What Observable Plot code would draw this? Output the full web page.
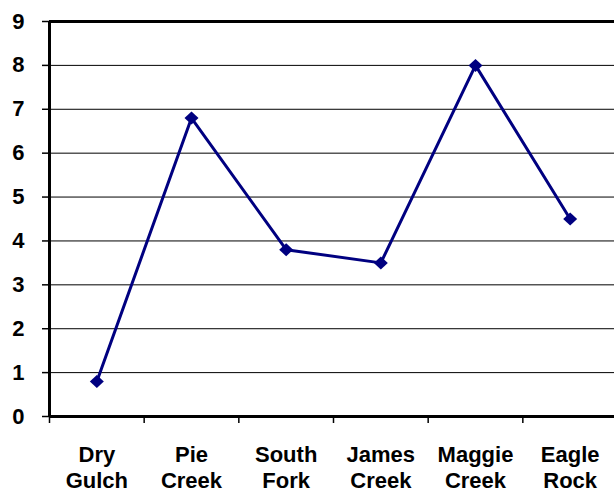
<!DOCTYPE html>
<html>
<head>
<meta charset="utf-8">
<script src="https://cdn.jsdelivr.net/npm/d3@7"></script>
<script src="https://cdn.jsdelivr.net/npm/@observablehq/plot@0.6"></script>
<style>
  html, body { margin: 0; padding: 0; background: #fff; }
</style>
</head>
<body>
<div id="chart"></div>
<script>
const categories = ["Dry\nGulch", "Pie\nCreek", "South\nFork", "James\nCreek", "Maggie\nCreek", "Eagle\nRock"];
const values = [0.8, 6.8, 3.8, 3.5, 8.0, 4.5];
const yTicks = [0, 1, 2, 3, 4, 5, 6, 7, 8, 9];

const data = categories.map((c, i) => ({i, name: c, value: values[i]}));
const boundaries = categories.map((c, i) => i - 0.5);

const diamond = {
  draw(ctx, size) {
    const w = 7, h = 6.5;
    ctx.moveTo(0, -h);
    ctx.lineTo(w, 0);
    ctx.lineTo(0, h);
    ctx.lineTo(-w, 0);
    ctx.closePath();
  }
};

const chart = Plot.plot({
  width: 614,
  height: 493,
  marginLeft: 49,
  marginRight: 0,
  marginTop: 21,
  marginBottom: 77,
  style: {fontFamily: "'Liberation Sans', Arial, sans-serif", fontSize: "22px", fontWeight: "bold", color: "#000", background: "#fff", overflow: "visible"},
  x: {domain: [-0.5, categories.length - 0.5], range: [49, 617], label: null},
  y: {domain: [0, 9], range: [416, 21], label: null},
  marks: [
    Plot.ruleY(yTicks.slice(1, -1), {stroke: "#000", strokeWidth: 1}),
    Plot.ruleY([9], {stroke: "#000", strokeWidth: 3}),
    Plot.axisY({ticks: yTicks, tickSize: 7, tickPadding: 18, tickFormat: d => String(d), stroke: "#000", strokeWidth: 1.5, fill: "#000", label: null}),
    Plot.axisX({ticks: boundaries, tickSize: 7, tickFormat: () => "", stroke: "#000", strokeWidth: 1.5, label: null}),
    Plot.axisX({ticks: data.map(d => d.i), tickSize: 0, tickPadding: 27, tickFormat: i => categories[i], lineHeight: 1.18, fill: "#000", label: null}),
    Plot.ruleX([-0.5], {y1: 0, y2: 9, stroke: "#000", strokeWidth: 3}),
    Plot.ruleY([0], {stroke: "#000", strokeWidth: 3}),
    Plot.line(data, {x: "i", y: "value", stroke: "#000080", strokeWidth: 3}),
    Plot.dot(data, {x: "i", y: "value", symbol: diamond, fill: "#000080", stroke: "none"})
  ]
});
document.getElementById("chart").appendChild(chart);
</script>
</body>
</html>
